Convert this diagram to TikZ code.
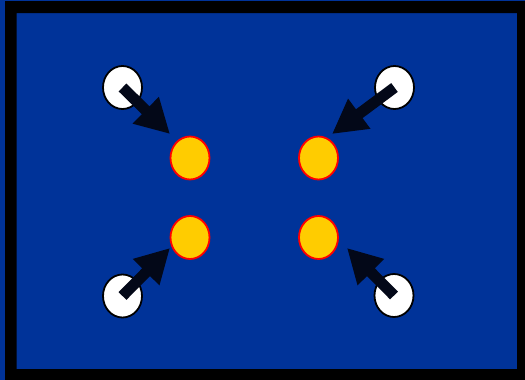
\documentclass[tikz,border=0pt]{standalone}
\usepackage{tikz}
\usetikzlibrary{arrows.meta, shapes.geometric, calc}

\definecolor{slide}{HTML}{003399}
\definecolor{gold}{HTML}{FFCC00}
\definecolor{ink}{HTML}{030818}

\begin{document}
\begin{tikzpicture}[
  x=1pt, y=-1pt,
  source/.style={ellipse, draw=black, line width=1.8pt, fill=white,
    minimum width=39pt, minimum height=43pt, inner sep=0pt},
  target/.style={ellipse, draw=red, line width=1.8pt, fill=gold,
    minimum width=39pt, minimum height=43pt, inner sep=0pt},
  arrow/.style={-{Triangle[length=34pt, width=35pt]}, line width=11pt, ink},
]
  \useasboundingbox (0,0) rectangle (525,380);
  \fill[slide] (0,0) rectangle (525,380);
  \fill[black, even odd rule] (5,1) rectangle (525,380) (16.5,13) rectangle (517,369);

  % the four targets
  \node[target] (tl) at (190,158)   {};
  \node[target] (tr) at (318.5,158) {};
  \node[target] (bl) at (190,237.5) {};
  \node[target] (br) at (318.5,237.5) {};

  % the four sources
  \node[source] (stl) at (122.5,87.5) {};
  \node[source] (str) at (394.5,87.5) {};
  \node[source] (sbl) at (122.5,296)  {};
  \node[source] (sbr) at (394,295.5)  {};

  % arrow tips, just off each target
  \coordinate (ptl) at ($(tl)+(-20,-24)$);
  \coordinate (ptr) at ($(tr)+(13.5,-24)$);
  \coordinate (pbl) at ($(bl)+(-20,10.5)$);
  \coordinate (pbr) at ($(br)+(28.5,10.5)$);

  \draw[arrow] (stl.center) -- (ptl);
  \draw[arrow] (str.center) -- (ptr);
  \draw[arrow] (sbl.center) -- (pbl);
  \draw[arrow] (sbr.center) -- (pbr);
\end{tikzpicture}
\end{document}
